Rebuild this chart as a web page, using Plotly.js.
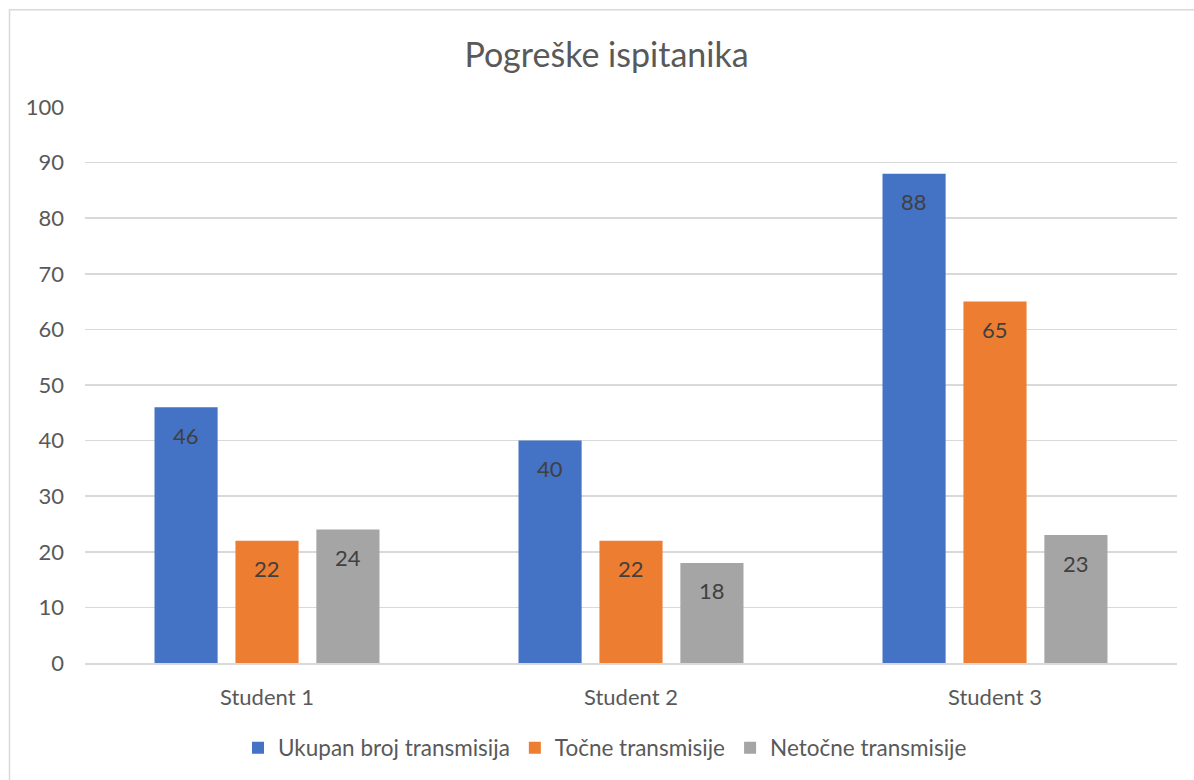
<!DOCTYPE html>
<html>
<head>
<meta charset="utf-8">
<script src="https://cdn.plot.ly/plotly-3.0.1.min.js"></script>
<style>
html,body{margin:0;padding:0;background:#fff;}
#chart{width:1194px;height:780px;}
</style>
</head>
<body>
<div id="chart"></div>
<script>
const categories = ["Student 1", "Student 2", "Student 3"];
const seriesNames = ["Ukupan broj transmisija", "Točne transmisije", "Netočne transmisije"];
const ukupan = [46, 40, 88];
const tocne = [22, 22, 65];
const netocne = [24, 18, 23];
const yTicks = [0, 10, 20, 30, 40, 50, 60, 70, 80, 90, 100];

const colors = ["#4472C4", "#ED7D31", "#A5A5A5"];
const allSeries = [ukupan, tocne, netocne];
const FONT = "Lato, 'Open Sans', sans-serif";

const W = 1194, H = 780;
const margin = {l: 85, r: 17, t: 107, b: 116};
const bargap = 0.333, bargroupgap = 0.22;

const traces = allSeries.map((vals, i) => ({
  type: "bar",
  name: seriesNames[i],
  x: categories,
  y: vals,
  marker: {color: colors[i]},
  hoverinfo: "x+y+name"
}));

// data labels positioned via annotations, inside end of each bar
const plotW = W - margin.l - margin.r;
const plotH = H - margin.t - margin.b;
const catW = plotW / categories.length;
const slotW = catW * (1 - bargap) / allSeries.length;
const annotations = [];
allSeries.forEach((vals, i) => {
  vals.forEach((v, j) => {
    annotations.push({
      x: categories[j], y: v, xref: "x", yref: "y",
      text: String(v), showarrow: false,
      xshift: (i - (allSeries.length - 1) / 2) * slotW,
      yshift: -28, yanchor: "middle",
      font: {family: FONT, size: 22, color: "#404040"}
    });
  });
});

const layout = {
  width: W, height: H,
  margin: margin,
  paper_bgcolor: "#fff", plot_bgcolor: "#fff",
  title: {text: "Pogreške ispitanika", font: {family: FONT, size: 34, color: "#595959"},
          x: (606.5 - margin.l) / plotW, xref: "paper", xanchor: "center",
          y: (H - 55) / H, yanchor: "middle"},
  barmode: "group",
  bargap: bargap, bargroupgap: bargroupgap,
  xaxis: {
    type: "category", showgrid: false, zeroline: false,
    showline: true, linecolor: "#d9d9d9", linewidth: 1.5,
    ticks: "", ticklabelstandoff: 14,
    tickfont: {family: FONT, size: 22, color: "#595959"}
  },
  yaxis: {
    range: [0, 100], tickvals: yTicks, ticktext: yTicks.map(String),
    showgrid: true, gridcolor: "#d9d9d9", gridwidth: 1.5,
    zeroline: false, showline: false, ticks: "",
    ticklabelstandoff: 20,
    tickfont: {family: FONT, size: 22, color: "#595959"}
  },
  legend: {
    orientation: "h", x: (605 - margin.l) / plotW, xanchor: "center",
    y: -(748 - (H - margin.b)) / plotH, yanchor: "middle",
    font: {family: FONT, size: 22.5, color: "#595959"},
    traceorder: "normal"
  },
  annotations: annotations,
  shapes: [{
    type: "rect", xref: "paper", yref: "paper",
    x0: (9.5 - margin.l) / plotW, x1: (W + 10 - margin.l) / plotW,
    y0: -(margin.b + 10) / plotH, y1: (H - margin.b - 9.5) / plotH,
    line: {color: "#d9d9d9", width: 1.5}, fillcolor: "rgba(0,0,0,0)", layer: "below"
  }],
  showlegend: true
};

Plotly.newPlot("chart", traces, layout, {displayModeBar: false, staticPlot: true});
</script>
</body>
</html>
